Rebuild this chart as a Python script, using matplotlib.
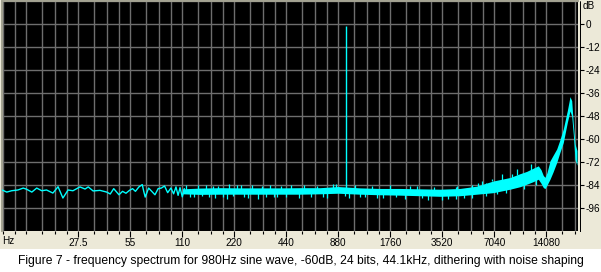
import matplotlib
matplotlib.use("Agg")
import matplotlib.pyplot as plt
from matplotlib.patches import Rectangle

# ─────────────────────────────────────────────
#   DATA
# ─────────────────────────────────────────────
# low end: single noisy trace (Hz, dB)
low_freq = [9.95, 10.6, 11.3, 12.3, 13.2, 13.8, 14.8, 15.8, 16.9, 18.0, 19.6, 21.0,
            22.4, 24.0, 25.6, 28.1, 30.1, 31.4, 33.5, 36.7, 40.2, 42.1, 44.1, 47.3,
            49.6, 51.9, 54.4, 56.7, 58.9, 61.7, 64.5, 65.8, 67.1, 70.2, 73.2, 76.4,
            79.7, 83.2, 86.8, 90.5, 94.5, 98.0, 101.1, 104.0, 106.7, 110, 113]
low_db = [-86.6, -87.7, -87.0, -86.6, -85.6, -86.2, -87.7, -85.6, -87.0, -86.6, -88.2, -84.9,
          -90.8, -86.6, -87.0, -85.0, -86.1, -85.0, -87.1, -86.8, -87.7, -88.7, -85.9, -89.1,
          -87.3, -88.3, -86.8, -85.9, -87.3, -85.0, -83.8, -87.3, -90.3, -85.6, -87.3, -89.1,
          -85.9, -85.6, -84.5, -88.0, -85.6, -88.6, -85.0, -89.4, -85.4, -90.2, -86.0]

# dense part: band envelope (Hz, upper dB, lower dB)
band_freq = [110, 139, 182, 237, 310, 405, 528, 690, 876, 1175, 1534, 2003, 2614,
             3415, 4456, 5569, 6947, 8679, 9917, 10840, 11792, 12655, 13118, 13525,
             13838, 14209, 14790, 15395, 16173, 16897, 17660, 18629, 19311, 19753,
             20175, 20639, 21192]
band_hi = [-86.0, -85.6, -85.4, -85.5, -85.5, -85.5, -85.4, -85.4, -84.8, -85.5, -85.8,
           -85.8, -86.0, -86.2, -85.8, -84.6, -81.9, -80.1, -78.1, -76.9, -75.3, -74.0,
           -76.0, -79.0, -80.0, -77.5, -71.4, -68.6, -65.2, -60.3, -54.7, -45.2, -37.9,
           -40.0, -52.1, -62.5, -66.0]
band_lo = [-88.6, -88.9, -88.8, -88.8, -88.8, -88.8, -88.8, -88.6, -88.3, -88.8, -89.1,
           -89.3, -89.6, -89.9, -89.6, -88.8, -88.0, -86.2, -84.9, -83.6, -82.3, -81.0,
           -83.1, -85.3, -85.9, -84.1, -81.0, -77.3, -72.3, -66.9, -61.8, -51.4, -45.4,
           -48.0, -57.5, -70.6, -73.7]

# single spikes sticking out of the band (Hz, from dB, to dB)
spike_freq = [116, 122, 128, 135, 143, 150, 158, 165, 170, 178, 190, 200, 205, 215,
              228, 240, 252, 265, 280, 300, 318, 335, 355, 372, 390, 410, 440, 470,
              520, 560, 610, 660, 720, 760, 820, 850, 960, 1020, 1100, 1180, 1250,
              1380, 1480, 1600, 1750, 1900, 2150, 2300, 2500, 2700, 2900, 3150, 3500,
              3800, 4200, 4300, 4700, 5200, 5700, 6000, 6300, 6800, 7300, 7800, 8200,
              8900, 9500, 10500, 11500, 12200]
spike_from = [-87] * 54 + [-85, -87, -86, -84, -86, -84, -83, -82, -83, -82, -84,
                           -82, -79, -81, -77, -76]
spike_to = [-84.2, -90.4, -90.5, -84.0, -89.8, -83.8, -90.2, -84.4, -90.8, -84.6,
            -90.0, -91.5, -83.6, -89.9, -84.2, -83.9, -90.3, -90.6, -84.1, -91.2,
            -84.4, -90.2, -84.0, -90.0, -90.3, -84.3, -90.5, -84.2, -90.8, -84.0,
            -90.0, -84.4, -90.4, -90.6, -83.3, -83.6, -89.8, -91.0, -84.0, -90.4,
            -90.2, -84.6, -90.6, -90.8, -84.2, -90.5, -91.3, -84.5, -84.5, -91.0,
            -91.6, -84.8, -91.8, -91.2, -91.4, -84.3, -90.8, -90.8, -82.8, -82.0,
            -89.6, -80.8, -88.8, -78.5, -88.2, -78.2, -75.5, -86.0, -73.0, -83.8]

# the 980 Hz tone
tone_freq = 980
tone_top = -0.9
tone_floor = -86.5

# axis ticks
db_ticks = [0, -12, -24, -36, -48, -60, -72, -84, -96]
oct_freq = [13.75, 27.5, 55, 110, 220, 440, 880, 1760, 3520, 7040, 14080]
oct_labels = ["", "27.5", "55", "110", "220", "440", "880", "1760", "3520", "7040", "14080"]
minor_ratio = [1.23, 1.472, 1.727]

CAPTION = ("Figure 7 - frequency spectrum for 980Hz sine wave, -60dB, 24 bits, "
           "44.1kHz, dithering with noise shaping")

BEIGE = "#ECE9D8"
GRID = "#6E6E6E"
CYAN = "#00FFFF"

# ─────────────────────────────────────────────
#   FIGURE
# ─────────────────────────────────────────────
W, H = 601, 272
fig = plt.figure(figsize=(W / 100, H / 100), dpi=100, facecolor="white")
fig.patches.append(Rectangle((0, 22.7 / H), 1, 1 - 22.7 / H, transform=fig.transFigure,
                             facecolor=BEIGE, edgecolor="none", zorder=-10))

ax = fig.add_axes([1.5 / W, 41 / H, 576 / W, 230 / H])
ax.set_facecolor("black")
ax.set_xscale("log", base=2)
ax.set_xlim(9.88, 21340)
ax.set_ylim(-108, 12)

# grid
minors = [f * r for f in [6.875] + oct_freq for r in minor_ratio]
minors = [m for m in minors if 9.9 < m < 21300]
for f in oct_freq + minors:
    ax.axvline(f, color=GRID, lw=1, zorder=1)
for d in [12] + db_ticks:
    ax.axhline(d, color=GRID, lw=1, zorder=1)

# trace
ax.plot(low_freq, low_db, color=CYAN, lw=1, zorder=3)
ax.fill_between(band_freq, band_lo, band_hi, color=CYAN, lw=0, zorder=3)
ax.vlines(spike_freq, spike_from, spike_to, color=CYAN, lw=0.9, zorder=3)
ax.vlines([tone_freq], tone_floor, tone_top, color=CYAN, lw=1, zorder=3)

# spines
ax.spines["bottom"].set_visible(False)
ax.spines["top"].set_color("#A3A291")
ax.spines["left"].set_color("#A3A291")
ax.spines["top"].set_linewidth(1.4)
ax.spines["left"].set_linewidth(1.4)
ax.spines["right"].set_position(("outward", 2))
ax.spines["right"].set_linestyle((0, (0.72, 0.72)))
ax.spines["right"].set_linewidth(0.72)
ax.spines["right"].set_color("black")

# right dB axis
ax.yaxis.tick_right()
ax.set_yticks(db_ticks)
ax.set_yticklabels([str(d) for d in db_ticks], family="Liberation Sans", fontsize=7.2)
ax.tick_params(axis="y", direction="out", length=3, width=0.8, color="black", pad=1)
ax.annotate("dB", xy=(1.0, 12), xycoords=ax.get_yaxis_transform(),
            xytext=(5, -5), textcoords="offset pixels", ha="left", va="center",
            family="Liberation Sans", fontsize=7.2)

# bottom frequency axis
ax.set_xticks(oct_freq)
ax.set_xticklabels(oct_labels, family="Liberation Sans", fontsize=7.2)
ax.set_xticks(minors, minor=True)
ax.xaxis.set_minor_formatter(plt.NullFormatter())
ax.tick_params(axis="x", which="major", direction="out", length=4.5, width=0.8,
               color="black", pad=0.5)
ax.tick_params(axis="x", which="minor", direction="out", length=2.2, width=0.8,
               color="black")
ax.xaxis.get_major_ticks()[0].tick1line.set_markersize(2.2)
ax.text(10.8, -0.02, "Hz", transform=ax.get_xaxis_transform(), ha="center", va="top",
        family="Liberation Sans", fontsize=7.2)

fig.text(0.5, 11 / H, CAPTION, ha="center", va="center",
         family="Liberation Sans", fontsize=8.7)

plt.savefig("out.png", dpi=100, facecolor=fig.get_facecolor())
